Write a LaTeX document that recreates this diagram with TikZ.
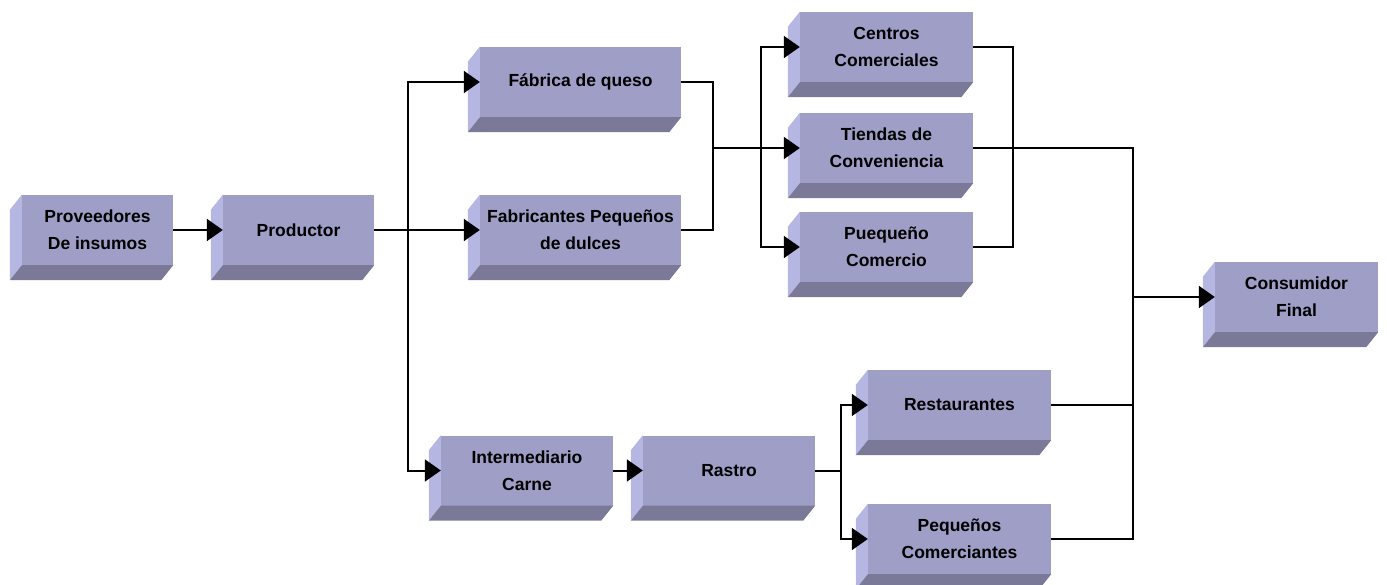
\documentclass[tikz,border=0pt]{standalone}
\usepackage{fontspec}
\setmainfont{Liberation Sans}
\usetikzlibrary{arrows.meta,calc}
\definecolor{facec}{RGB}{158,158,198}
\definecolor{leftc}{RGB}{182,182,226}
\definecolor{botc}{RGB}{122,122,152}
\tikzset{
  box/.style={rectangle, fill=facec, inner sep=0pt, minimum height=70pt, align=center,
    font=\bfseries\fontsize{17.5}{27}\selectfont},
  conn/.style={line width=2pt},
  arr/.style={line width=2pt, -{Triangle[length=16pt,width=22pt]}},
}
\begin{document}
\begin{tikzpicture}[x=1pt,y=-1pt]
\useasboundingbox (0,0) rectangle (1387,585);
% boxes (front faces)
\node[box, minimum width=151pt] (prov) at (97.5,230) {Proveedores\\De insumos};
\node[box, minimum width=151pt] (prod) at (298.5,230) {Productor};
\node[box, minimum width=201pt] (fab) at (580.5,82) {Fábrica de queso};
\node[box, minimum width=201pt] (fpd) at (580.5,230) {Fabricantes Pequeños\\de dulces};
\node[box, minimum width=173pt] (cc) at (886.5,47) {Centros\\Comerciales};
\node[box, minimum width=173pt] (td) at (886.5,148) {Tiendas de\\Conveniencia};
\node[box, minimum width=173pt] (pc) at (886.5,247) {Puequeño\\Comercio};
\node[box, minimum width=163pt] (cf) at (1296.5,297) {Consumidor\\Final};
\node[box, minimum width=172pt] (im) at (527,470.5) {Intermediario\\Carne};
\node[box, minimum width=172pt] (ra) at (729,470.5) {Rastro};
\node[box, minimum width=183pt] (re) at (959.5,405) {Restaurantes};
\node[box, minimum width=183pt] (pq) at (959.5,539) {Pequeños\\Comerciantes};
% 3D sides
\foreach \n in {prov,prod,fab,fpd,cc,td,pc,cf,im,ra,re,pq}{
  \fill[leftc] (\n.north west) -- (\n.south west) -- ++(-12,15) -- ($(\n.north west)+(-12,15)$) -- cycle;
  \fill[botc] (\n.south west) -- (\n.south east) -- ++(-12,15) -- ($(\n.south west)+(-12,15)$) -- cycle;
}
% junction coordinates
\coordinate (j1) at (408,0);
\coordinate (j2) at (713,0);
\coordinate (j3) at (761,0);
\coordinate (j4) at (1013,0);
\coordinate (j5) at (1133,0);
\coordinate (j6) at (841,0);
% connectors
\draw[arr] (prov.east) -- (prod.west);
\draw[arr] (prod.east) -- (fpd.west);
\draw[arr] (j1 |- prod.east) |- (fab.west);
\draw[arr] (j1 |- prod.east) |- (im.west);
\draw[conn] (fab.east) -| (j2 |- fpd.east) -- (fpd.east);
\draw[arr] (j2 |- td.west) -- (td.west);
\draw[arr] (j3 |- td.west) |- (cc.west);
\draw[arr] (j3 |- td.west) |- (pc.west);
\draw[conn] (cc.east) -| (j4 |- pc.east) -- (pc.east);
\draw[conn] (td.east) -- (j5 |- td.east) -- (j5 |- pq.east) -- (pq.east);
\draw[conn] (re.east) -- (j5 |- re.east);
\draw[arr] (j5 |- cf.west) -- (cf.west);
\draw[arr] (im.east) -- (ra.west);
\draw[conn] (ra.east) -- (j6 |- ra.east);
\draw[arr] (j6 |- ra.east) |- (re.west);
\draw[arr] (j6 |- ra.east) |- (pq.west);
\end{tikzpicture}
\end{document}
